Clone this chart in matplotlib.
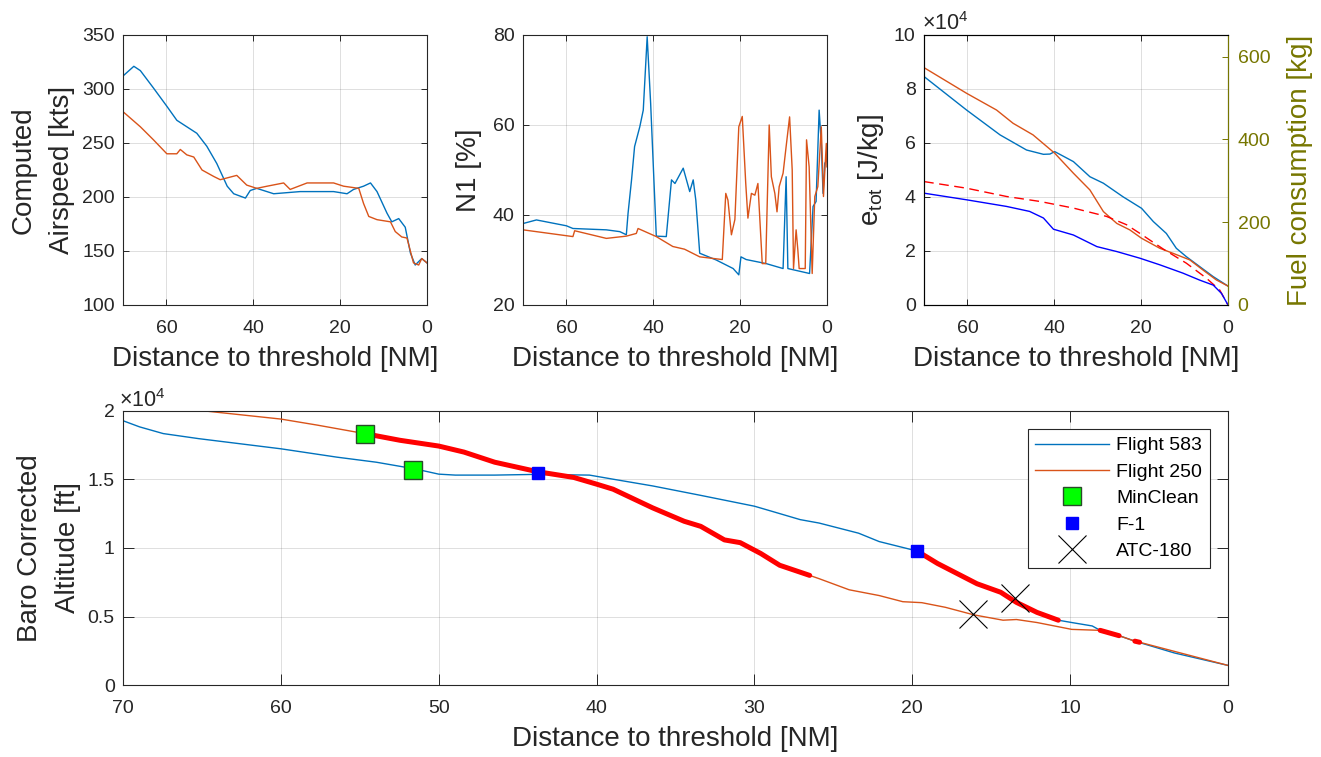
import numpy as np
import matplotlib.pyplot as plt
from matplotlib.ticker import FuncFormatter

plt.rcParams['font.family'] = ['Liberation Sans', 'DejaVu Sans']
plt.rcParams['mathtext.fontset'] = 'custom'
plt.rcParams['mathtext.rm'] = 'Liberation Sans'
plt.rcParams['mathtext.it'] = 'Liberation Sans:italic'

# colores tipo MATLAB
c583 = '#0072BD'
c250 = '#D95319'
olive = '#767600'
ink = '#262626'

# ---- velocidad (kts) vs distancia (NM)
as_d583 = [70, 67.5, 66, 63, 59.9, 57.6, 55.3, 53, 50.7, 48.4, 46, 44.5, 41.8, 40.7, 39.2, 35.3,
           29.2, 21.5, 18.4, 16.9, 14.6, 13, 11.5, 9.2, 8.1, 6.5, 5, 3.8, 2.7, 1.2, 0]
as_v583 = [312, 321, 317, 301, 284, 271, 265, 259, 247, 231, 210, 203, 199, 206, 208, 203,
           205, 205, 203, 207, 210, 213, 205, 185, 177, 180, 172, 148, 137, 143, 139]
as_d250 = [70, 66, 63, 59.9, 57.6, 56.8, 55.3, 53.7, 51.8, 49.1, 47.6, 43.8, 41.5, 39.2, 36.8, 33,
           31.5, 27.6, 24.6, 21.5, 19.2, 15.7, 14.6, 13.4, 11.5, 8.4, 7.3, 5.8, 4.6, 3.1, 1.9, 1.2, 0]
as_v250 = [279, 265, 253, 240, 240, 244, 239, 237, 225, 219, 216, 220, 211, 208, 210, 213,
           207, 213, 213, 213, 210, 208, 194, 182, 179, 177, 168, 163, 162, 139, 137, 143, 139]

# ---- N1 (%)
n1_d583 = [70, 66.9, 60, 58.5, 50.8, 47.7, 46.2, 45.8, 45, 44.3, 43.1, 42.3, 41.4, 40.6, 39.3, 37,
           35.8, 35, 33.1, 31.6, 30.8, 30.2, 29.3, 25.5, 21.6, 20.3, 19.8, 18.6, 14, 10.1,
           9.4, 9, 4, 3.2, 2.5, 1.8, 1.3, 0.9, 0.5, 0]
n1_v583 = [38.1, 38.9, 37.6, 37.0, 36.7, 36.3, 35.6, 40.4, 47.8, 55.2, 59.6, 63.3, 79.6, 64.8, 35.3, 35.2,
           47.8, 47.0, 50.4, 45.2, 47.8, 43.3, 31.5, 30.0, 28.1, 26.7, 30.7, 30.1, 29.2, 28.1,
           48.5, 28.1, 27.0, 41.9, 43.0, 63.3, 55.9, 44.8, 51.5, 52.2]
n1_d250 = [70, 58.5, 58.1, 50.8, 46.2, 43.9, 43.5, 39.3, 35.5, 32.8, 29.3, 24.1, 23.3, 22.8, 22, 21.2,
           20.3, 19.5, 18.7, 18.2, 17.4, 16.6, 15.9, 14.9, 14.1, 13.3, 12.8, 12, 11.5, 11, 10.1, 9.4,
           8.6, 8, 7.7, 7.1, 6.7, 6.4, 5, 4.7, 4.1, 3.4, 2.8, 2.1, 1.3, 0.8, 0.15, 0]
n1_v250 = [36.7, 35.2, 36.5, 34.8, 35.3, 35.9, 37.0, 35.2, 33.0, 32.4, 30.7, 30.1, 44.8, 43.3, 35.6, 39.0,
           59.6, 61.9, 47.0, 39.3, 44.8, 44.4, 47.0, 29.2, 29.2, 60.0, 48.5, 44.8, 40.7, 46.3, 49.3, 55.2,
           61.8, 50.0, 28.1, 36.7, 32.2, 28.1, 28.1, 56.7, 50.7, 27.0, 44.1, 46.3, 59.6, 44.1, 55.9, 50.7]

# ---- energia total (J/kg)
e_d583 = [70, 60.2, 52.5, 46.4, 42.5, 41, 39.9, 35.6, 31.8, 28.7, 24.2, 19.9, 17.2, 14.2, 11.9, 9.6, 6.5, 3.4, 0]
e_v583 = [84600, 72200, 63000, 57400, 55800, 55900, 56800, 53100, 47500, 45100, 40100, 35800,
          30900, 26500, 21000, 17900, 14200, 10500, 7000]
e_d250 = [70, 60.2, 53.3, 49.5, 44.9, 39.9, 35.6, 31.8, 28.7, 25.6, 22.6, 19.9, 15.7, 12.6, 8.8, 5.8, 2.7, 0]
e_v250 = [87900, 78400, 72200, 67300, 63000, 56200, 48800, 42600, 34600, 30200, 27800, 24700,
          21000, 19100, 16700, 13000, 9300, 7000]

# ---- combustible (kg)
f_d_red = [70, 60.2, 51, 43.3, 35.6, 28, 23.4, 20.3, 14.9, 9.6, 5, 1.9, 0]
f_v_red = [298, 282, 262, 250, 234, 214, 194, 173, 135, 101, 65, 36, 0]
f_d_blue = [70, 60.2, 51, 45.7, 42.5, 40.2, 35.6, 30.2, 25.6, 20.3, 15.7, 10.4, 6.5, 3.4, 1.5, 0]
f_v_blue = [270, 254, 238, 226, 210, 183, 169, 141, 129, 113, 97, 77, 60, 48, 28, 0]

# ---- altitud (ft)
alt_d583 = [70, 68.95, 67.45, 65.2, 60, 56.45, 53.95, 51.45, 50, 48.95, 46.45, 43.95, 40.45, 38.95,
            36.45, 33.4, 30, 28.9, 27.1, 25.9, 23.4, 22.1, 19.7, 18.4, 15.9, 14.4, 13.4, 12.1, 10.75,
            9.9, 8.6, 8.1, 6.9, 5.9, 3.4, 0]
alt_v583 = [19290, 18840, 18350, 17980, 17240, 16630, 16260, 15760, 15390, 15320, 15320, 15370, 15320,
            15020, 14530, 13840, 13050, 12680, 12070, 11820, 11080, 10470, 9780, 8870, 7390, 6770,
            6030, 5300, 4730, 4560, 4310, 3990, 3600, 3200, 2340, 1430]
alt_d250 = [64.8, 60, 57.7, 54.7, 52.45, 50, 48.4, 46.45, 43.75, 41.45, 40, 38.95, 36.45, 34.45, 33.4,
            31.9, 30.9, 29.6, 28.4, 26.5, 25.9, 24, 22.1, 20.6, 19.4, 17.9, 16.1, 14.25, 13.4, 12.1,
            9.9, 8.1, 6.9, 5.9, 5.6, 0]
alt_v250 = [20000, 19410, 18970, 18350, 17860, 17440, 17000, 16260, 15570, 15150, 14660, 14290, 12930,
            11950, 11580, 10590, 10390, 9600, 8740, 8000, 7760, 6950, 6530, 6080, 6010, 5670, 5120,
            4730, 4780, 4560, 4060, 3990, 3600, 3200, 3120, 1430]

# tramos resaltados en rojo: (vuelo, desde NM, hasta NM)
tramos = [('250', 54.7, 26.5), ('583', 19.7, 10.75), ('250', 8.1, 6.9), ('250', 5.9, 5.6)]

minclean_d = [54.7, 51.6]
minclean_alt = [18300, 15700]
f1_d = [43.7, 19.7]
f1_alt = [15470, 9780]
atc_d = [16.15, 13.5]
atc_alt = [5180, 6350]

fs_tick = 14
fs_lab = 20


def estilo(ax, tl, right=True):
    ax.grid(True, color=ink, alpha=0.15, lw=0.7)
    ax.set_axisbelow(True)
    ax.tick_params(direction='in', length=tl, width=0.7, top=True, right=right,
                   labelsize=fs_tick, colors=ink)
    ax.tick_params(axis='x', pad=11)
    ax.tick_params(axis='y', pad=6)
    for s in ax.spines.values():
        s.set_color(ink)
        s.set_linewidth(0.8)


def x104(ax, x, y):
    ax.text(x, y, r'$\times$10$^4$', transform=ax.transAxes, fontsize=15.5, color=ink,
            ha='left', va='bottom')


fig = plt.figure(figsize=(13.21, 7.57), dpi=100)
W, H = 0.2301, 0.3567
ax1 = fig.add_axes([0.0931, 0.5971, W, H])
ax2 = fig.add_axes([0.3959, 0.5971, W, H])
ax3 = fig.add_axes([0.6995, 0.5971, W, H])
ax4 = fig.add_axes([0.0931, 0.0951, 0.8365, 0.362])

xlab = 'Distance to threshold [NM]'

# velocidad
ax1.plot(as_d583, as_v583, color=c583, lw=1)
ax1.plot(as_d250, as_v250, color=c250, lw=1)
ax1.set_xlim(70, 0)
ax1.set_ylim(100, 350)
ax1.set_xticks([60, 40, 20, 0])
ax1.set_yticks([100, 150, 200, 250, 300, 350])
estilo(ax1, 4)
ax1.set_xlabel(xlab, fontsize=fs_lab, color=ink, labelpad=6)
ax1.set_ylabel('Computed\nAirspeed [kts]', fontsize=fs_lab, color=ink, labelpad=5, linespacing=1.6)

# N1
ax2.plot(n1_d583, n1_v583, color=c583, lw=1)
ax2.plot(n1_d250, n1_v250, color=c250, lw=1)
ax2.set_xlim(70, 0)
ax2.set_ylim(20, 80)
ax2.set_xticks([60, 40, 20, 0])
ax2.set_yticks([20, 40, 60, 80])
estilo(ax2, 4)
ax2.set_xlabel(xlab, fontsize=fs_lab, color=ink, labelpad=6)
ax2.set_ylabel('N1 [%]', fontsize=fs_lab, color=ink, labelpad=8)

# energia + combustible
ax3.plot(e_d583, e_v583, color=c583, lw=1)
ax3.plot(e_d250, e_v250, color=c250, lw=1)
ax3.set_xlim(70, 0)
ax3.set_ylim(0, 1e5)
ax3.set_xticks([60, 40, 20, 0])
ax3.set_yticks(np.arange(0, 100001, 20000))
ax3.yaxis.set_major_formatter(FuncFormatter(lambda v, p: '%g' % (v / 1e4)))
estilo(ax3, 4, right=False)
ax3.set_xlabel(xlab, fontsize=fs_lab, color=ink, labelpad=6)
ax3.set_ylabel(r'e$_{\mathrm{tot}}$ [J/kg]', fontsize=fs_lab, color=ink, labelpad=6)
x104(ax3, -0.008, 1.0)

ax3b = ax3.twinx()
ax3b.plot(f_d_red, f_v_red, color='red', lw=1, ls=(0, (7, 4)))
ax3b.plot(f_d_blue, f_v_blue, color='blue', lw=1)
ax3b.set_xlim(70, 0)
ax3b.set_ylim(0, 652)
ax3b.set_yticks([0, 200, 400, 600])
ax3b.tick_params(direction='in', length=4, width=0.7, labelsize=fs_tick, colors=olive, pad=7)
ax3b.spines['right'].set_color(olive)
ax3b.set_ylabel('Fuel consumption [kg]', fontsize=fs_lab, color=olive, labelpad=12)

# altitud
ax4.plot(alt_d583, alt_v583, color=c583, lw=1, label='Flight 583')
ax4.plot(alt_d250, alt_v250, color=c250, lw=1, label='Flight 250')
datos = {'583': (np.array(alt_d583), np.array(alt_v583)),
         '250': (np.array(alt_d250), np.array(alt_v250))}
for vuelo, a, b in tramos:
    d, h = datos[vuelo]
    m = (d <= a) & (d >= b)
    ax4.plot(d[m], h[m], color='red', lw=3.6, solid_capstyle='round', zorder=3)
ax4.plot(minclean_d, minclean_alt, ls='none', marker='s', ms=13, mfc='#00FF00', mec='#2a4a2a',
         mew=1, zorder=4, label='MinClean')
ax4.plot(f1_d, f1_alt, ls='none', marker='s', ms=8.5, mfc='blue', mec='blue', zorder=4, label='F-1')
ax4.plot(atc_d, atc_alt, ls='none', marker='x', ms=20, mec='black', mew=0.8, zorder=4, label='ATC-180')
ax4.set_xlim(70, 0)
ax4.set_ylim(0, 20000)
ax4.set_xticks(np.arange(70, -1, -10))
ax4.set_yticks(np.arange(0, 20001, 5000))
ax4.yaxis.set_major_formatter(FuncFormatter(lambda v, p: '%g' % (v / 1e4)))
estilo(ax4, 8)
ax4.set_xlabel(xlab, fontsize=fs_lab, color=ink, labelpad=6)
ax4.set_ylabel('Baro Corrected\nAltitude [ft]', fontsize=fs_lab, color=ink, labelpad=5, linespacing=1.6)
x104(ax4, -0.004, 0.995)

leg = ax4.legend(loc='upper right', bbox_to_anchor=(0.9837, 0.934), borderaxespad=0, fontsize=14,
                 handlelength=3.8, handletextpad=0.36, labelspacing=0.45, borderpad=0.4,
                 fancybox=False, framealpha=1, edgecolor=ink)
leg.get_frame().set_linewidth(0.8)

fig.savefig('out.png', dpi=100)
